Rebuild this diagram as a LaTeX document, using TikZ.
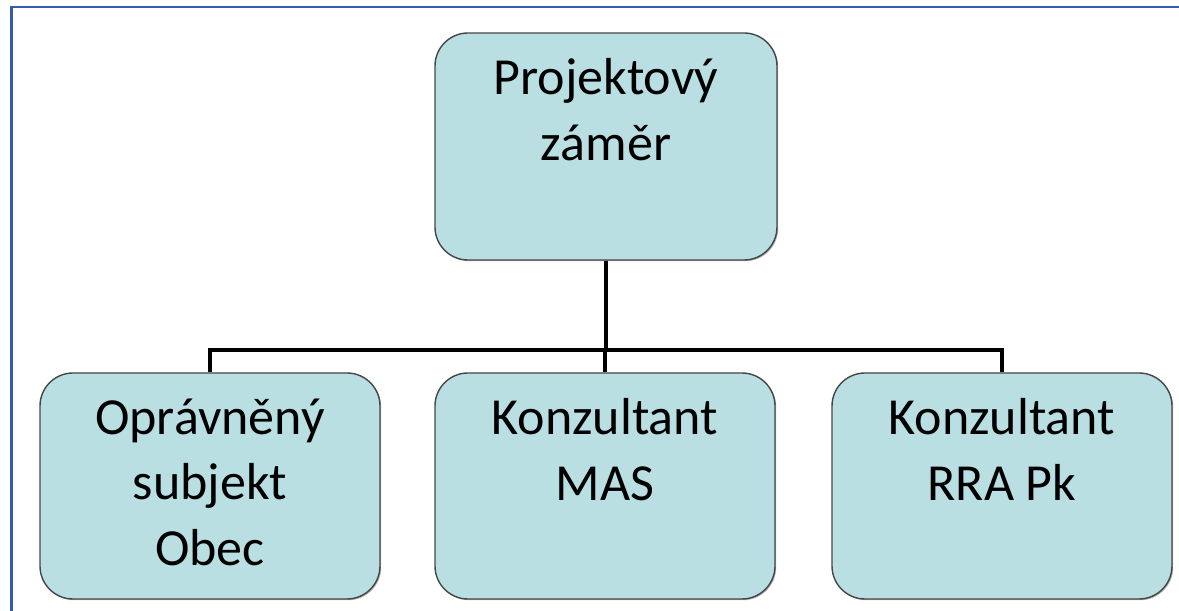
\documentclass[tikz,border=0pt]{standalone}
\usepackage{fontspec}
\setmainfont{Carlito}
\usepackage{tikz}
\usetikzlibrary{positioning, shadows}
\definecolor{boxfill}{RGB}{185,223,227}
\definecolor{boxline}{RGB}{70,70,70}
\definecolor{framecol}{RGB}{52,92,170}

\begin{document}
\begin{tikzpicture}[
	box/.style={draw=boxline, fill=boxfill, line width=0.8pt, rounded corners=0.66cm,
		minimum width=6.8cm, minimum height=4.52cm, inner sep=0pt,
		drop shadow={shadow xshift=0.7pt, shadow yshift=-0.7pt, fill=black, opacity=0.3}},
	txt/.style={anchor=north, align=center, inner sep=0pt, yshift=-0.52cm,
		font=\fontsize{29.6}{37.4}\selectfont},
	conn/.style={draw=black, line width=2.3pt}]
	\useasboundingbox (0,0) rectangle (23.58,-12.22);
	\draw[framecol, line width=1.3pt] (0.23,-12.22) -- (0.23,-0.14) -- (23.58,-0.14);

	\node[box, minimum width=6.84cm, minimum height=4.54cm] (zamer) at (12.12,-2.93) {};
	\node[box] (obec) at (4.2,-9.72) {};
	\node[box] (mas) at (12.1,-9.72) {};
	\node[box] (rra) at (20.04,-9.72) {};

	\node[txt] (zamerT) at (zamer.north) {Projektový\\záměr};
	\node[txt] (obecT) at (obec.north) {Oprávněný\\subjekt\\Obec};
	\node[txt] (masT) at (mas.north) {Konzultant\\MAS};
	\node[txt] (rraT) at (rra.north) {Konzultant\\RRA Pk};

	\coordinate (bus) at (12.12,-7.0);
	\draw[conn] (zamer.south) -- (bus);
	\draw[conn] (obec.north) |- (bus) -| (rra.north);
	\draw[conn] (bus) -- (bus -| mas.north) -- (mas.north);
\end{tikzpicture}
\end{document}
